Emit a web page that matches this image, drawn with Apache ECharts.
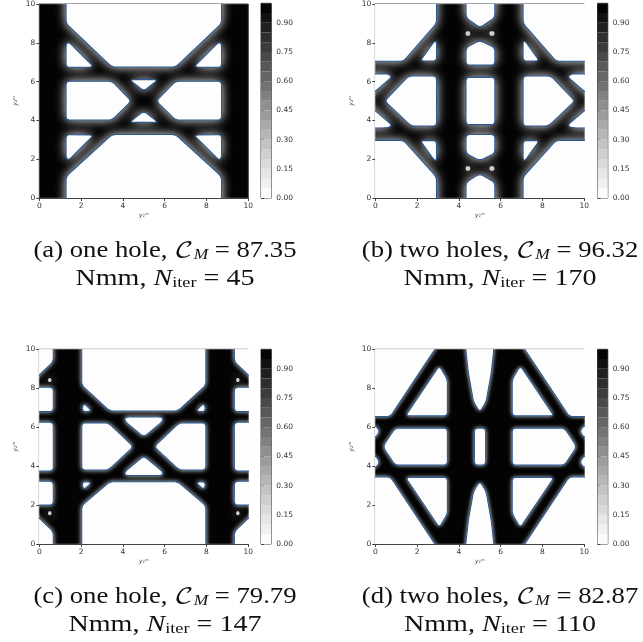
<!DOCTYPE html>
<html><head><meta charset="utf-8">
<style>html,body{margin:0;padding:0;background:#fff}#c{width:643px;height:642px;filter:blur(0.4px)}</style>
<script src="https://cdn.jsdelivr.net/npm/echarts@6/dist/echarts.min.js"></script>
</head><body><div id="c"></div>
<script>
const tickValues=[0,2,4,6,8,10];
const colorbarTicks=[0,0.15,0.30,0.45,0.60,0.75,0.90];
const colorbarGrays=['#fbfbfb','#f0f0f0','#e6e6e6','#dadada','#cfcfcf','#c3c3c3','#b6b6b6','#a9a9a9','#9c9c9c','#8f8f8f','#818181','#737373','#666666','#585858','#4a4a4a','#3c3c3c','#2e2e2e','#202020','#121212','#040404'];
const captionA=['(a) one hole, ','87.35','45'];
const captionB=['(b) two holes, ','96.32','170'];
const captionC=['(c) one hole, ','79.79','147'];
const captionD=['(d) two holes, ','82.87','110'];

const holesA=[
[[1.28,10.5],[1.28,9],[3.48,6.75],[6.52,6.75],[8.72,9],[8.72,10.5]],
[[1.28,-0.5],[1.28,1.1],[3.48,3.27],[6.52,3.27],[8.72,1.1],[8.72,-0.5]],
[[1.28,7.95],[1.42,8.03],[2.6,6.76],[1.28,6.73]],
[[8.72,7.95],[8.58,8.03],[7.4,6.76],[8.72,6.73]],
[[1.28,2.05],[1.42,1.97],[2.6,3.24],[1.28,3.27]],
[[8.72,2.05],[8.58,1.97],[7.4,3.24],[8.72,3.27]],
[[1.28,6.02],[3.48,6.02],[4.4,5],[3.48,4.02],[1.28,4.02]],
[[8.72,6.02],[6.52,6.02],[5.6,5],[6.52,4.02],[8.72,4.02]],
[[4.32,6.1],[5.68,6.1],[5.0,5.52]],
[[4.32,3.9],[5.68,3.9],[5.0,4.48]]
];
const holesB=[
[[-0.5,7.05],[1.35,7.05],[2.93,9],[2.93,10.5],[-0.5,10.5]],
[[10.5,7.05],[8.65,7.05],[7.07,9],[7.07,10.5],[10.5,10.5]],
[[-0.5,2.97],[1.35,2.97],[2.93,1.08],[2.93,-0.5],[-0.5,-0.5]],
[[10.5,2.97],[8.65,2.97],[7.07,1.08],[7.07,-0.5],[10.5,-0.5]],
[[2.93,7.06],[2.15,7.06],[2.82,8.07],[2.93,8.07]],
[[7.07,7.06],[7.85,7.06],[7.18,8.07],[7.07,8.07]],
[[2.15,2.96],[2.93,2.96],[2.93,1.95],[2.82,1.95]],
[[7.85,2.96],[7.07,2.96],[7.07,1.95],[7.18,1.95]],
[[2.93,6.29],[1.6,6.29],[0.45,5],[1.72,3.71],[2.93,3.71]],
[[7.07,6.29],[8.4,6.29],[9.55,5],[8.28,3.71],[7.07,3.71]],
[[-0.5,6.4],[0.6,6.4],[0.8,6.25],[0,5.5],[-0.5,5.1]],
[[-0.5,3.6],[0.6,3.62],[0.8,3.75],[0,4.5],[-0.5,4.9]],
[[10.5,6.4],[9.4,6.4],[9.2,6.25],[10,5.5],[10.5,5.1]],
[[10.5,3.6],[9.4,3.62],[9.2,3.75],[10,4.5],[10.5,4.9]],
[[4.34,10.5],[4.34,9.3],[5,8.78],[5.72,9.3],[5.72,10.5]],
[[4.34,6.85],[5.72,6.85],[5.72,7.75],[5,8.12],[4.34,7.75]],
[[4.34,6.22],[5.72,6.22],[5.72,3.78],[4.34,3.78]],
[[4.34,3.27],[5.72,3.27],[5.72,2.3],[5,1.93],[4.34,2.3]],
[[4.34,-0.5],[4.34,0.8],[5,1.25],[5.72,0.8],[5.72,-0.5]]
];
const faintB=[
[[4.32,8.6],[4.54,8.6],[4.54,8.36],[4.32,8.36]],
[[5.46,8.6],[5.7,8.6],[5.7,8.36],[5.46,8.36]],
[[4.32,1.64],[4.54,1.64],[4.54,1.4],[4.32,1.4]],
[[5.46,1.64],[5.7,1.64],[5.7,1.4],[5.46,1.4]]
];
const holesC=[
[[-0.5,8.17],[0,8.68],[0.67,9.37],[0.67,10.5],[-0.5,10.5]],
[[-0.5,8.05],[0.67,8.05],[0.67,6.8],[-0.5,6.8]],
[[-0.5,6.25],[0.67,6.25],[0.67,3.75],[-0.5,3.75]],
[[-0.5,3.22],[0.67,3.22],[0.67,2.0],[-0.5,2.0]],
[[-0.5,1.83],[0,1.32],[0.67,0.63],[0.67,-0.5],[-0.5,-0.5]],
[[10.5,8.17],[10,8.68],[9.33,9.37],[9.33,10.5],[10.5,10.5]],
[[10.5,8.05],[9.33,8.05],[9.33,6.8],[10.5,6.8]],
[[10.5,6.25],[9.33,6.25],[9.33,3.75],[10.5,3.75]],
[[10.5,3.22],[9.33,3.22],[9.33,2.0],[10.5,2.0]],
[[10.5,1.83],[10,1.32],[9.33,0.63],[9.33,-0.5],[10.5,-0.5]],
[[2.03,10.5],[2.03,8.15],[3.38,6.83],[6.62,6.83],[7.97,8.15],[7.97,10.5]],
[[2.03,-0.5],[2.03,1.97],[3.38,3.2],[6.62,3.2],[7.97,1.97],[7.97,-0.5]],
[[2.03,6.22],[3.3,6.22],[4.5,5],[3.3,3.8],[2.03,3.8]],
[[7.97,6.22],[6.7,6.22],[5.5,5],[6.7,3.8],[7.97,3.8]],
[[4.1,6.52],[5.9,6.52],[5.9,6.3],[5,5.5],[4.1,6.3]],
[[4.1,3.52],[5.9,3.52],[5.9,3.72],[5,4.52],[4.1,3.72]],
[[2.05,7.0],[2.15,7.22],[2.52,6.82],[2.1,6.8]],
[[7.95,7.0],[7.85,7.22],[7.48,6.82],[7.9,6.8]],
[[2.05,3.02],[2.15,2.8],[2.52,3.18],[2.1,3.2]],
[[7.95,3.02],[7.85,2.8],[7.48,3.18],[7.9,3.2]]
];
const faintC=[
[[0.42,8.52],[0.58,8.52],[0.58,8.32],[0.42,8.32]],
[[9.42,8.52],[9.58,8.52],[9.58,8.32],[9.42,8.32]],
[[0.42,1.68],[0.58,1.68],[0.58,1.48],[0.42,1.48]],
[[9.42,1.68],[9.58,1.68],[9.58,1.48],[9.42,1.48]]
];
const holesD=[
[[-0.5,6.55],[0.72,6.55],[2.85,10],[3.16,10.5],[-0.5,10.5]],
[[10.5,6.55],[9.28,6.55],[7.15,10],[6.84,10.5],[10.5,10.5]],
[[-0.5,3.45],[0.72,3.45],[2.85,0],[3.16,-0.5],[-0.5,-0.5]],
[[10.5,3.45],[9.28,3.45],[7.15,0],[6.84,-0.5],[10.5,-0.5]],
[[3.06,9.15],[3.45,8.45],[3.45,6.58],[1.45,6.58]],
[[6.94,9.15],[6.55,8.45],[6.55,6.58],[8.55,6.58]],
[[3.06,0.85],[3.45,1.55],[3.45,3.42],[1.45,3.42]],
[[6.94,0.85],[6.55,1.55],[6.55,3.42],[8.55,3.42]],
[[3.45,5.95],[0.95,5.95],[0.42,5.1],[0.42,4.9],[0.95,4.05],[3.45,4.05]],
[[6.55,5.95],[9.05,5.95],[9.58,5.1],[9.58,4.9],[9.05,4.05],[6.55,4.05]],
[[4.74,5.95],[5.28,5.95],[5.28,4.05],[4.74,4.05]],
[[4.28,10.5],[4.45,8.8],[4.7,7.3],[5,6.78],[5.3,7.3],[5.55,8.8],[5.72,10.5]],
[[4.28,-0.5],[4.45,1.2],[4.7,2.7],[5,3.22],[5.3,2.7],[5.55,1.2],[5.72,-0.5]],
[[-0.5,6.1],[0,6.1],[0.22,5.8],[0,5.45],[-0.5,5.45]],
[[-0.5,3.9],[0,3.9],[0.22,4.2],[0,4.55],[-0.5,4.55]],
[[10.5,6.1],[10,6.1],[9.78,5.8],[10,5.45],[10.5,5.45]],
[[10.5,3.9],[10,3.9],[9.78,4.2],[10,4.55],[10.5,4.55]]
];

const panels=[
 {holes:holesA,faint:[],blur:11,radius:4,left:39.3,top:3.3,barLeft:261,cap:captionA,capX:165},
 {holes:holesB,faint:faintB,blur:11,radius:4,left:375.3,top:3.3,barLeft:597.5,cap:captionB,capX:500},
 {holes:holesC,faint:faintC,blur:5,radius:4,left:39.3,top:349.3,barLeft:261,cap:captionC,capX:165},
 {holes:holesD,faint:[],blur:4.5,radius:4,left:375.3,top:349.3,barLeft:597.5,cap:captionD,capX:500}
];
const W=209,H=194.7,BW=10.3;
const AXIS='#444',TXT='#333',LINE='#2a5a96';

function rounded(pts,r){
 const out=[],n=pts.length;
 for(let i=0;i<n;i++){
  const p=pts[i],a=pts[(i+n-1)%n],b=pts[(i+1)%n];
  const la=Math.hypot(a[0]-p[0],a[1]-p[1]),lb=Math.hypot(b[0]-p[0],b[1]-p[1]);
  const ra=Math.min(r,la/2.2),rb=Math.min(r,lb/2.2);
  const s=[p[0]+(a[0]-p[0])*ra/la,p[1]+(a[1]-p[1])*ra/la],e=[p[0]+(b[0]-p[0])*rb/lb,p[1]+(b[1]-p[1])*rb/lb];
  for(let k=0;k<=5;k++){const t=k/5,u=1-t;out.push([u*u*s[0]+2*u*t*p[0]+t*t*e[0],u*u*s[1]+2*u*t*p[1]+t*t*e[1]]);}
 }
 return out;
}
function holeSeries(list,i,radius,style){
 return {type:'custom',xAxisIndex:i,yAxisIndex:i,clip:true,silent:true,animation:false,
  data:list.map(h=>h[0]),
  renderItem:(params,api)=>({type:'polygon',
    shape:{points:rounded(list[params.dataIndex].map(p=>api.coord(p)),radius)},
    style:style})};
}
const grid=[],xAxis=[],yAxis=[],series=[],graphic=[];
const serif='"Liberation Serif","DejaVu Serif",serif';
panels.forEach((p,i)=>{
 grid.push({left:p.left,top:p.top,width:W,height:H,show:true,backgroundColor:'#030303',borderColor:AXIS,borderWidth:1});
 xAxis.push({type:'value',gridIndex:i,min:0,max:10,interval:2,name:'y₁ᵐ',nameLocation:'middle',nameGap:14,
  nameTextStyle:{fontSize:6,color:TXT,fontStyle:'italic',fontFamily:'DejaVu Sans'},
  axisLine:{onZero:false,lineStyle:{color:AXIS}},axisTick:{length:3,lineStyle:{color:AXIS}},splitLine:{show:false},
  axisLabel:{fontSize:7.5,color:TXT,margin:4,fontFamily:'DejaVu Sans'}});
 yAxis.push({type:'value',gridIndex:i,min:0,max:10,interval:2,name:'y₂ᵐ',nameLocation:'middle',nameGap:21,nameRotate:90,
  nameTextStyle:{fontSize:6,color:TXT,fontStyle:'italic',fontFamily:'DejaVu Sans'},
  axisLine:{onZero:false,lineStyle:{color:AXIS}},axisTick:{length:3,lineStyle:{color:AXIS}},splitLine:{show:false},
  axisLabel:{fontSize:7.5,color:TXT,margin:4,fontFamily:'DejaVu Sans'}});
 if(p.faint.length) series.push(holeSeries(p.faint,i,3,{fill:'#cfcfcf',shadowBlur:10,shadowColor:'#e0e0e0'}));
 series.push(holeSeries(p.holes,i,p.radius,{fill:'#fdfdfd',shadowBlur:p.blur,shadowColor:'#ffffff'}));
 series.push(holeSeries(p.holes,i,p.radius,{fill:'none',stroke:LINE,lineWidth:1.1}));
});
panels.forEach((p,i)=>{
 const k=panels.length+i;
 grid.push({left:p.barLeft,top:p.top,width:BW,height:H,show:true,backgroundColor:'#fff',borderColor:AXIS,borderWidth:1});
 xAxis.push({type:'value',gridIndex:k,min:0,max:1,show:false});
 yAxis.push({type:'value',gridIndex:k,min:0,max:1,position:'right',splitLine:{show:false},
  axisLine:{show:false},
  axisTick:{customValues:colorbarTicks,length:3,lineStyle:{color:AXIS}},
  axisLabel:{customValues:colorbarTicks,fontSize:7.5,color:TXT,margin:5,fontFamily:'DejaVu Sans',formatter:v=>v.toFixed(2)}});
 series.push({type:'custom',xAxisIndex:k,yAxisIndex:k,silent:true,animation:false,clip:true,
  data:colorbarGrays.map((c,j)=>[0,j*0.05]),
  renderItem:(params,api)=>{
   const a=api.coord([0,api.value(1)]),b=api.coord([1,api.value(1)+0.05]);
   return {type:'rect',shape:{x:a[0],y:b[1],width:b[0]-a[0],height:a[1]-b[1]},style:{fill:colorbarGrays[params.dataIndex]}};
  }});
 const base=p.top+248;
 graphic.push({type:'text',x:p.capX,y:base,scaleX:1.16,style:{
   text:p.cap[0]+'{c|𝒞}{s|M} = '+p.cap[1],align:'center',verticalAlign:'middle',fill:'#111',
   font:'23px '+serif,
   rich:{c:{fontSize:23,fontFamily:'"DejaVu Math TeX Gyre",'+serif,fill:'#111'},s:{fontSize:15,fontStyle:'italic',fontFamily:serif,fill:'#111',padding:[8,0,0,0]}}}});
 graphic.push({type:'text',x:p.capX,y:base+27.5,scaleX:1.22,style:{
   text:'Nmm, {i|N}{s|iter} = '+p.cap[2],align:'center',verticalAlign:'middle',fill:'#111',
   font:'23px '+serif,
   rich:{i:{fontSize:23,fontStyle:'italic',fontFamily:serif,fill:'#111'},s:{fontSize:15,fontFamily:serif,fill:'#111',padding:[8,0,0,0]}}}});
});
const chart=echarts.init(document.getElementById('c'),null,{renderer:'canvas'});
chart.setOption({animation:false,backgroundColor:'#fff',grid,xAxis,yAxis,series,graphic});
</script></body></html>
